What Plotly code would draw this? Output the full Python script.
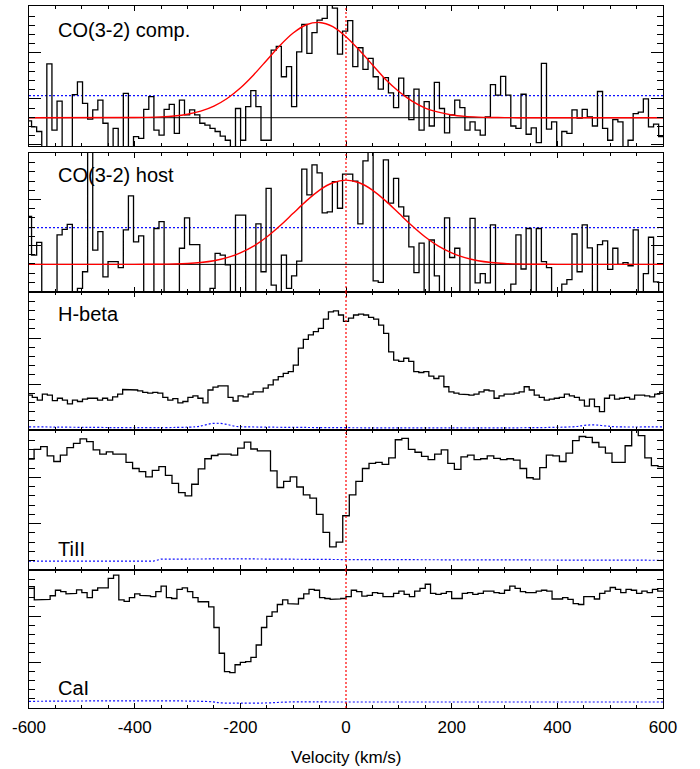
import plotly.graph_objects as go

# ---------------- data (arbitrary flux units) ----------------
# CO(3-2) spectra: channel centres start at CO_V0 with width CO_DV (km/s)
CO_V0 = -600.0
CO_DV = 9.65
co_comp = [-0.07, -0.20, -0.30, -0.85, 1.17, -0.27, 0.36, -0.85, -0.85, 0.50,
           0.78, 0.31, -0.03, 0.17, 0.38, -0.12, -0.85, -0.23, -0.85, 0.53,
           -0.85, -0.41, -0.45, 0.18, 0.46, -0.27, -0.38, 0.18, 0.29, -0.34,
           0.38, 0.06, 0.17, 0.06, -0.12, -0.16, -0.23, -0.30, -0.40, -0.49,
           -0.85, 0.20, -0.49, 0.24, 0.59, 0.24, -0.49, -0.49, 1.47, 1.55,
           0.89, 1.11, 0.24, 1.43, 2.03, 1.40, 1.85, 2.12, 2.16, 2.67,
           2.38, 1.38, 1.88, 2.11, 1.11, 1.52, 1.05, 1.29, 0.89, 0.62,
           0.87, 0.54, 0.22, 0.86, 0.48, -0.04, 0.62, -0.27, 0.35, -0.18,
           0.77, 0.20, -0.33, 0.06, 0.38, 0.22, -0.27, -0.09, -0.27, -0.38,
           0.02, 0.72, 0.49, 0.90, 0.49, -0.18, -0.23, 0.51, -0.36, -0.22,
           -0.54, 1.18, -0.25, -0.09, -0.85, -0.30, -0.34, 0.17, -0.01, 0.18,
           0.02, -0.18, 0.57, -0.23, -0.49, -0.04, -0.09, -0.85, -0.49, 0.09,
           0.12, 0.41, -0.20, -0.14, -0.41]
co_host = [1.04, 0.20, 0.48, -0.81, -0.81, -0.81, 0.64, 0.76, 0.87, -0.81,
           -0.52, -0.16, 2.50, 0.31, 0.71, -0.27, 0.06, 0.06, -0.07, 0.75,
           1.49, 0.49, 0.62, -0.81, -0.81, 0.78, 0.93, -0.81, -0.81, -0.81,
           0.35, 1.01, 0.43, 0.43, -0.81, -0.81, -0.52, 0.24, 0.20, -0.01,
           -0.81, 1.07, 1.07, -0.81, -0.81, 0.88, -0.16, 1.65, -0.45, -0.81,
           0.20, -0.52, -0.25, 0.07, 2.07, 1.51, 2.16, 1.99, 1.12, 1.14,
           1.80, 1.22, 1.96, 1.96, 1.81, 0.88, 2.25, 2.50, -0.36, -0.39,
           2.27, 1.33, 1.87, 1.25, 1.05, 0.38, -0.18, 0.46, -0.81, 0.53,
           -0.25, -0.81, 1.01, 0.15, 0.35, -0.81, -0.81, 1.00, -0.40, -0.20,
           -0.40, 0.86, -0.81, -0.81, -0.81, -0.43, 0.64, -0.10, 0.78, -0.81,
           0.78, 0.06, -0.07, -0.81, -0.81, -0.43, -0.33, 0.66, -0.16, 0.86,
           0.36, -0.81, 0.43, 0.51, -0.11, 0.35, 0.00, 0.04, -0.03, 0.75,
           -0.81, -0.20, 0.59, -0.38, -0.81]
co_comp_rms = 0.48
co_host_rms = 0.80

# Gaussian fits
fit_v = [-600, -400, -375, -350, -325, -300, -275, -250, -225, -200, -175, -150,
         -125, -100, -75, -50, -25, 0, 25, 50, 75, 100, 125, 150, 175, 200,
         225, 250, 275, 300, 325, 350, 375, 400, 600]
fit_comp = [0, 0.003, 0.007, 0.017, 0.037, 0.076, 0.143, 0.253, 0.418, 0.645,
            0.929, 1.25, 1.57, 1.84, 2.02, 2.07, 1.98, 1.76, 1.47, 1.15, 0.83,
            0.57, 0.36, 0.21, 0.12, 0.06, 0.029, 0.013, 0.005, 0.002, 0, 0, 0,
            0, 0]
fit_host = [0, 0.001, 0.002, 0.004, 0.009, 0.020, 0.042, 0.080, 0.146, 0.248,
            0.396, 0.594, 0.838, 1.11, 1.38, 1.615, 1.773, 1.83, 1.773, 1.615,
            1.38, 1.11, 0.838, 0.594, 0.396, 0.248, 0.146, 0.080, 0.042, 0.020,
            0.009, 0.004, 0.002, 0.001, 0]

# H-beta: channel centres HB_V0 + k*HB_DV
HB_V0 = -598.5
HB_DV = 9.5
hbeta = [0.76, 0.71, 0.65, 0.78, 0.76, 0.64, 0.69, 0.65, 0.57, 0.65,
         0.62, 0.67, 0.69, 0.69, 0.65, 0.69, 0.65, 0.72, 0.78, 0.88,
         0.87, 0.87, 0.85, 0.82, 0.80, 0.82, 0.80, 0.71, 0.65, 0.68,
         0.59, 0.62, 0.71, 0.74, 0.69, 0.59, 0.87, 0.93, 0.96, 0.96,
         0.71, 0.63, 0.74, 0.72, 0.78, 0.83, 0.83, 0.91, 0.98, 1.09,
         1.16, 1.23, 1.27, 1.41, 1.78, 1.97, 2.07, 2.14, 2.21, 2.41,
         2.57, 2.59, 2.50, 2.36,
         2.43, 2.50, 2.52, 2.50, 2.45, 2.41, 2.28, 2.10, 1.70, 1.52,
         1.49, 1.56, 1.49, 1.27, 1.25, 1.27, 1.17, 1.12, 1.17, 0.94,
         0.83, 0.80, 0.78, 0.77, 0.76, 0.78, 0.83, 0.87, 0.85, 0.69,
         0.74, 0.78, 0.78, 0.80, 0.83, 0.94, 0.87, 0.76, 0.71, 0.65,
         0.67, 0.69, 0.71, 0.78, 0.74, 0.71, 0.65, 0.52, 0.67, 0.51,
         0.40, 0.69, 0.76, 0.67, 0.69, 0.71, 0.67, 0.76, 0.76, 0.74,
         0.72, 0.78, 0.83]
hbeta_err_v = [-600, -285, -270, -255, -240, -225, -210, -195, 430, 450, 470, 490, 510, 600]
hbeta_err = [0.07, 0.07, 0.10, 0.14, 0.145, 0.12, 0.08, 0.07, 0.07, 0.10, 0.11, 0.09, 0.07, 0.07]

# TiII: channel centres TI_V0 + k*TI_DV
TI_V0 = -596.6
TI_DV = 12.43
tiii = [2.39, 2.60, 2.66, 2.46, 2.34, 2.48, 2.64, 2.73, 2.83, 2.77,
        2.59, 2.50, 2.55, 2.50, 2.50, 2.32, 2.19, 2.12, 2.01, 2.15,
        2.23, 2.04, 1.87, 1.67, 1.60, 1.85, 2.18, 2.40, 2.47, 2.50,
        2.50, 2.48, 2.63, 2.76, 2.61, 2.57, 2.57, 2.14, 1.78, 1.91,
        2.01, 1.79, 1.62, 1.55, 1.20, 0.81, 0.50, 0.60, 1.17,
        1.62, 1.91, 2.19, 2.30, 2.32, 2.28, 2.42, 2.81, 2.84, 2.60,
        2.54, 2.45, 2.38, 2.50, 2.59, 2.30, 2.17, 2.44, 2.48, 2.38,
        2.40, 2.46, 2.41, 2.38, 2.40, 2.37, 2.19, 1.99, 1.96, 2.21,
        2.48, 2.46, 2.34, 2.52, 2.79, 2.88, 2.86, 2.75, 2.65, 2.52,
        2.32, 2.32, 2.68, 3.10, 2.90, 2.42, 2.25, 2.23]
tiii_err_v = [-600, -365, -350, -200, 0, 300, 600]
tiii_err = [0.19, 0.19, 0.235, 0.24, 0.225, 0.215, 0.21]

# CaI: channel centres CA_V0 + k*CA_DV
CA_V0 = -595.0
CA_DV = 10.0
cai = [2.64, 2.35, 2.36, 2.36, 2.44, 2.56, 2.53, 2.48, 2.49, 2.57,
       2.51, 2.40, 2.56, 2.61, 2.61, 2.82, 2.89, 2.35, 2.32, 2.40,
       2.48, 2.45, 2.44, 2.42, 2.53, 2.65, 2.40, 2.38, 2.58, 2.61,
       2.53, 2.40, 2.31, 2.31, 2.20, 1.75, 1.19, 0.79, 0.77, 0.94,
       0.99, 1.01, 1.10, 1.37, 1.75, 1.99, 2.09, 2.25, 2.35, 2.27,
       2.26, 2.38, 2.48, 2.58, 2.56, 2.40, 2.38, 2.36, 2.37, 2.38,
       2.42, 2.56, 2.53, 2.43, 2.45, 2.51, 2.49, 2.42, 2.42, 2.49,
       2.54, 2.47, 2.42, 2.54, 2.60, 2.69, 2.49, 2.47, 2.49, 2.53,
       2.38, 2.38, 2.49, 2.51, 2.47, 2.49, 2.54, 2.54, 2.51, 2.49,
       2.56, 2.65, 2.60, 2.53, 2.51, 2.51, 2.54, 2.56, 2.54, 2.37,
       2.37, 2.40, 2.36, 2.27, 2.25, 2.42, 2.42, 2.37, 2.49, 2.54,
       2.62, 2.58, 2.51, 2.58, 2.56, 2.49, 2.54, 2.51, 2.58, 2.54]
cai_err_v = [-600, -260, -235, -200, -150, -110, 0, 600]
cai_err = [0.145, 0.14, 0.11, 0.108, 0.11, 0.13, 0.13, 0.13]

labels = ["CO(3-2) comp.", "CO(3-2) host", "H-beta", "TiII", "CaI"]
xtick_vals = [-600, -400, -200, 0, 200, 400, 600]
xtick_text = ["-600", "-400", "-200", "0", "200", "400", "600"]
x_title = "Velocity (km/s)"

# ---------------- layout geometry ----------------
W, H = 700, 769
ML, MR, MT, MB = 29, 37, 6, 61
PH = H - MT - MB
# panel pixel extents (top, bottom) from page top
panel_px = [(6, 146), (153, 292), (292, 430), (430, 570), (570, 708)]
domains = [[(708 - b) / PH, (708 - t) / PH] for t, b in panel_px]
yranges = [[-0.615, 2.428], [-0.60, 2.42], [0.0, 3.0], [0.0, 3.02], [0.0, 3.0]]
ytick0 = [0.41, 0.41, 0.0, 0.0, 0.0]
label_y = [0.829, 0.842, 0.841, 0.15, 0.145]

FONT = "Liberation Sans, Arial, Helvetica, sans-serif"
BLUE = "#1010ff"


def steps(v0, dv, vals):
    xs, ys = [], []
    for i, y in enumerate(vals):
        c = v0 + dv * i
        xs += [c - dv / 2, c + dv / 2]
        ys += [y, y]
    return xs, ys


fig = go.Figure()

def add(trace, i):
    trace.xaxis = "x" if i == 0 else f"x{i+1}"
    trace.yaxis = "y" if i == 0 else f"y{i+1}"
    fig.add_trace(trace)

blue = dict(color=BLUE, width=1.2, dash="2px,2px")
blue_s = dict(color=BLUE, width=1.2, dash="2px,2px", shape="spline")
black = dict(color="black", width=1.3)

# panel 1: CO comp
add(go.Scatter(x=[-600, 600], y=[0, 0], mode="lines", line=dict(color="black", width=1)), 0)
add(go.Scatter(x=[-600, 600], y=[co_comp_rms, co_comp_rms], mode="lines", line=blue), 0)
xs, ys = steps(CO_V0, CO_DV, co_comp)
add(go.Scatter(x=xs, y=ys, mode="lines", line=black), 0)
add(go.Scatter(x=fit_v, y=fit_comp, mode="lines", line=dict(color="red", width=1.4, shape="spline", smoothing=0.8)), 0)

# panel 2: CO host
add(go.Scatter(x=[-600, 600], y=[0, 0], mode="lines", line=dict(color="black", width=1)), 1)
add(go.Scatter(x=[-600, 600], y=[co_host_rms, co_host_rms], mode="lines", line=blue), 1)
xs, ys = steps(CO_V0, CO_DV, co_host)
add(go.Scatter(x=xs, y=ys, mode="lines", line=black), 1)
add(go.Scatter(x=fit_v, y=fit_host, mode="lines", line=dict(color="red", width=1.4, shape="spline", smoothing=0.8)), 1)

# panel 3: H-beta
add(go.Scatter(x=hbeta_err_v, y=hbeta_err, mode="lines", line=blue_s), 2)
xs, ys = steps(HB_V0, HB_DV, hbeta)
add(go.Scatter(x=xs, y=ys, mode="lines", line=black), 2)

# panel 4: TiII
add(go.Scatter(x=tiii_err_v, y=tiii_err, mode="lines", line=blue), 3)
xs, ys = steps(TI_V0, TI_DV, tiii)
add(go.Scatter(x=xs, y=ys, mode="lines", line=black), 3)

# panel 5: CaI
add(go.Scatter(x=cai_err_v, y=cai_err, mode="lines", line=blue_s), 4)
xs, ys = steps(CA_V0, CA_DV, cai)
add(go.Scatter(x=xs, y=ys, mode="lines", line=black), 4)

layout = dict(
    width=W, height=H,
    margin=dict(l=ML, r=MR, t=MT, b=MB, pad=0),
    paper_bgcolor="white", plot_bgcolor="white",
    showlegend=False,
    font=dict(family=FONT, size=17, color="black"),
)

shapes = []
annotations = []
for i in range(5):
    xk = "xaxis" if i == 0 else f"xaxis{i+1}"
    yk = "yaxis" if i == 0 else f"yaxis{i+1}"
    xr = "x" if i == 0 else f"x{i+1}"
    yr = "y" if i == 0 else f"y{i+1}"
    layout[xk] = dict(
        domain=[0, 1], anchor=yr, range=[-600, 600], automargin=False,
        tickmode="array", tickvals=xtick_vals, ticktext=xtick_text,
        ticks="inside", ticklen=5, tickwidth=1, ticklabelstandoff=3,
        tickcolor="black", showline=True, linecolor="black", linewidth=1.3,
        mirror="allticks", showgrid=False, zeroline=False,
        showticklabels=(i == 4),
        tickfont=dict(family=FONT, size=17, color="black"),
        minor=dict(dtick=50, tick0=-600, ticks="inside", ticklen=3, tickcolor="black", showgrid=False),
    )
    if i != 0:
        layout[xk]["matches"] = "x"
    layout[yk] = dict(
        domain=domains[i], anchor=xr, range=yranges[i], automargin=False,
        tick0=ytick0[i], dtick=1, ticks="inside", ticklen=12, tickwidth=1,
        tickcolor="black", showline=True, linecolor="black", linewidth=1.3,
        mirror="allticks", showgrid=False, zeroline=False, showticklabels=False,
        minor=dict(dtick=0.2, tick0=ytick0[i], ticks="inside", ticklen=6, tickcolor="black", showgrid=False),
    )
    shapes.append(dict(type="line", xref=xr, yref=f"{yr} domain", x0=0, x1=0, y0=0, y1=1,
                       line=dict(color="red", width=1.2, dash="2px,2px"), layer="above"))
    annotations.append(dict(text=labels[i], xref=f"{xr} domain", yref=f"{yr} domain",
                            x=(56 - ML) / (W - ML - MR), y=label_y[i], xanchor="left", yanchor="middle",
                            showarrow=False, font=dict(family=FONT, size=20, color="black")))

annotations.append(dict(text=x_title, xref="paper", yref="paper", x=0.5, y=-49.7 / PH,
                        xanchor="center", yanchor="middle", showarrow=False,
                        font=dict(family=FONT, size=17, color="black")))
layout["shapes"] = shapes
layout["annotations"] = annotations
fig.update_layout(**layout)
fig.write_html("out.html", config={"displayModeBar": False},
               post_script="document.body.style.margin='0px';document.body.style.padding='0px';")
